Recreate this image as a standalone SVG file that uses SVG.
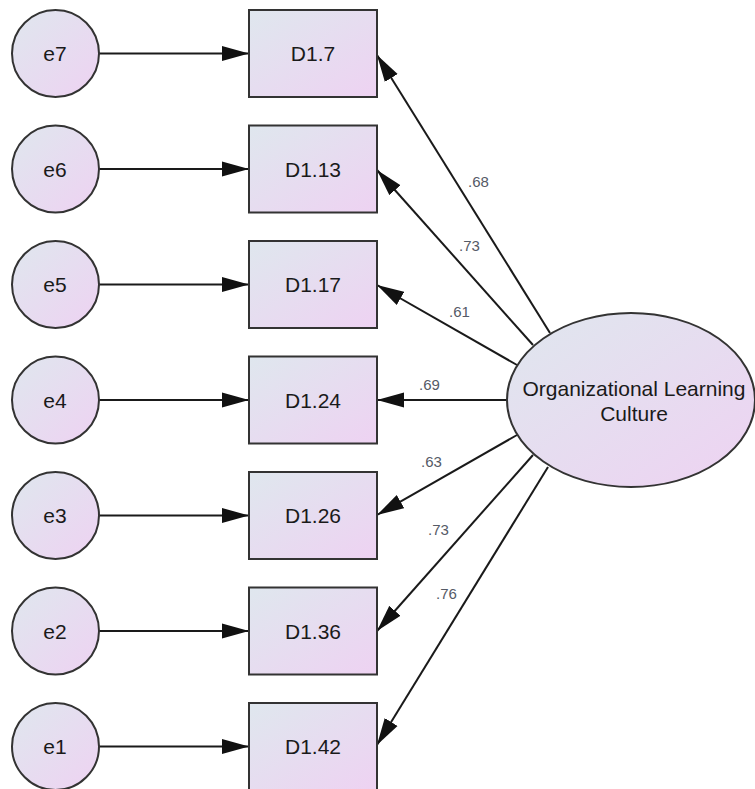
<svg xmlns="http://www.w3.org/2000/svg" width="755" height="789" viewBox="0 0 755 789">
  <defs>
    <linearGradient id="fillGrad" x1="0" y1="0" x2="1" y2="1">
      <stop offset="0" stop-color="#dfe7ee"/>
      <stop offset="1" stop-color="#eed2f2"/>
    </linearGradient>
    <marker id="arrow" markerUnits="userSpaceOnUse" markerWidth="28" markerHeight="16" refX="27" refY="8" orient="auto">
      <path d="M0,0.5 L27,8 L0,15.5 z" fill="#111"/>
    </marker>
    <style>
      .node { fill: url(#fillGrad); stroke: #333; stroke-width: 2; }
      .lbl { font-family: "Liberation Sans", Arial, sans-serif; font-size: 21px; fill: #1a1a1a; text-anchor: middle; }
      .coef { font-family: "Liberation Sans", Arial, sans-serif; font-size: 15px; fill: #555a66; }
      .conn line { stroke: #1a1a1a; stroke-width: 2; fill: none; marker-end: url(#arrow); }
    </style>
  </defs>

  <!-- connectors: error terms to indicators, factor to indicators -->
  <g id="connectors" class="conn">
    <line x1="99" y1="53.5" x2="249" y2="53.5"/>
    <line x1="99" y1="169" x2="249" y2="169"/>
    <line x1="99" y1="284.5" x2="249" y2="284.5"/>
    <line x1="99" y1="400" x2="249" y2="400"/>
    <line x1="99" y1="515.5" x2="249" y2="515.5"/>
    <line x1="99" y1="631" x2="249" y2="631"/>
    <line x1="99" y1="746.5" x2="249" y2="746.5"/>

    <line x1="550" y1="333" x2="377" y2="55"/>
    <line x1="533" y1="345" x2="377" y2="170"/>
    <line x1="517" y1="365" x2="377" y2="285"/>
    <line x1="507" y1="400" x2="377" y2="400"/>
    <line x1="517" y1="435" x2="377" y2="515"/>
    <line x1="533" y1="455" x2="377" y2="631"/>
    <line x1="548" y1="467" x2="377" y2="745"/>
  </g>

  <!-- loading coefficients -->
  <g id="coefficients">
    <text class="coef" x="468" y="187">.68</text>
    <text class="coef" x="459" y="251">.73</text>
    <text class="coef" x="449" y="317">.61</text>
    <text class="coef" x="419" y="390">.69</text>
    <text class="coef" x="421" y="467">.63</text>
    <text class="coef" x="428" y="535">.73</text>
    <text class="coef" x="436" y="599">.76</text>
  </g>

  <!-- error terms -->
  <g id="e7"><circle class="node" cx="55.5" cy="53.5" r="43.5"/><text class="lbl" x="55" y="61">e7</text></g>
  <g id="e6"><circle class="node" cx="55.5" cy="169" r="43.5"/><text class="lbl" x="55" y="176.5">e6</text></g>
  <g id="e5"><circle class="node" cx="55.5" cy="284.5" r="43.5"/><text class="lbl" x="55" y="292">e5</text></g>
  <g id="e4"><circle class="node" cx="55.5" cy="400" r="43.5"/><text class="lbl" x="55" y="407.5">e4</text></g>
  <g id="e3"><circle class="node" cx="55.5" cy="515.5" r="43.5"/><text class="lbl" x="55" y="523">e3</text></g>
  <g id="e2"><circle class="node" cx="55.5" cy="631" r="43.5"/><text class="lbl" x="55" y="638.5">e2</text></g>
  <g id="e1"><circle class="node" cx="55.5" cy="746.5" r="43.5"/><text class="lbl" x="55" y="754">e1</text></g>

  <!-- observed indicators -->
  <g id="D1_7"><rect class="node" x="249" y="10" width="128" height="87"/><text class="lbl" x="313" y="61">D1.7</text></g>
  <g id="D1_13"><rect class="node" x="249" y="125.5" width="128" height="87"/><text class="lbl" x="313" y="176.5">D1.13</text></g>
  <g id="D1_17"><rect class="node" x="249" y="241" width="128" height="87"/><text class="lbl" x="313" y="292">D1.17</text></g>
  <g id="D1_24"><rect class="node" x="249" y="356.5" width="128" height="87"/><text class="lbl" x="313" y="407.5">D1.24</text></g>
  <g id="D1_26"><rect class="node" x="249" y="472" width="128" height="87"/><text class="lbl" x="313" y="523">D1.26</text></g>
  <g id="D1_36"><rect class="node" x="249" y="587.5" width="128" height="87"/><text class="lbl" x="313" y="638.5">D1.36</text></g>
  <g id="D1_42"><rect class="node" x="249" y="703" width="128" height="87"/><text class="lbl" x="313" y="754">D1.42</text></g>

  <!-- latent factor -->
  <g id="OLC">
    <ellipse class="node" cx="631" cy="400" rx="124" ry="87"/>
    <text class="lbl" x="634" y="396">Organizational Learning</text>
    <text class="lbl" x="634" y="421">Culture</text>
  </g>
</svg>
